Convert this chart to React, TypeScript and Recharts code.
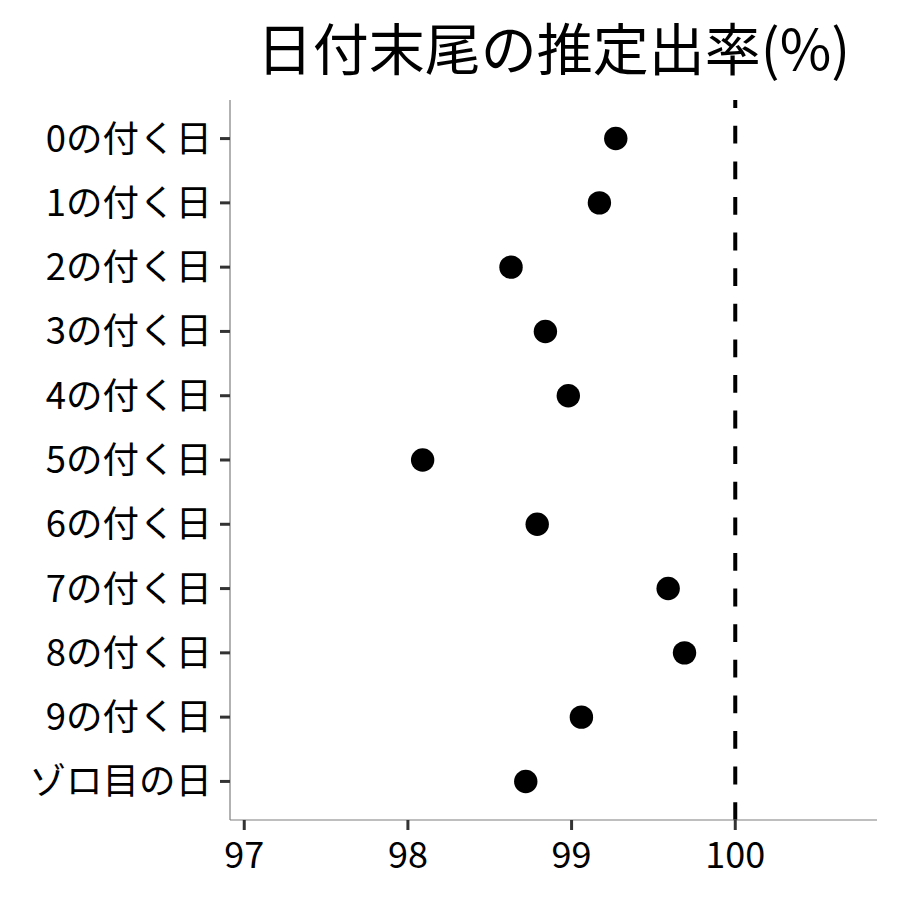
import { ScatterChart, Scatter, XAxis, YAxis, ReferenceLine } from "recharts";

const categories = [
  "0の付く日",
  "1の付く日",
  "2の付く日",
  "3の付く日",
  "4の付く日",
  "5の付く日",
  "6の付く日",
  "7の付く日",
  "8の付く日",
  "9の付く日",
  "ゾロ目の日",
];

const payoutRates = [99.27, 99.17, 98.63, 98.84, 98.98, 98.09, 98.79, 99.59, 99.69, 99.06, 98.72];

const xTicks = [97, 98, 99, 100];
const breakEven = 100;

const FONT = '"Noto Sans CJK JP", "Noto Sans", sans-serif';

const data = categories.map((name, i) => ({ name, idx: i, rate: payoutRates[i] }));

type DotProps = { cx?: number; cy?: number };

function Dot({ cx, cy }: DotProps) {
  if (cx == null || cy == null) return null;
  return <circle cx={cx} cy={cy} r={11.7} fill="#000" />;
}

export default function App() {
  return (
    <div style={{ position: "absolute", left: 0, top: 0, width: 900, height: 900, background: "#fff" }}>
      <div
        style={{
          position: "absolute",
          left: 230,
          width: 647,
          top: 6,
          textAlign: "center",
          fontFamily: FONT,
          fontSize: 56,
          lineHeight: "80px",
          color: "#000",
        }}
      >
        日付末尾の推定出率(%)
      </div>
      <ScatterChart width={900} height={900} margin={{ top: 100, right: 23, bottom: 0, left: 0 }}>
        <XAxis
          type="number"
          dataKey="rate"
          domain={[96.913, 100.866]}
          ticks={xTicks}
          allowDataOverflow
          height={80}
          tickSize={10}
          tickMargin={12}
          axisLine={{ stroke: "#7f7f7f", strokeWidth: 1.2 }}
          tickLine={{ stroke: "#333", strokeWidth: 3 }}
          tick={{ fill: "#000", fontSize: 36, fontFamily: FONT }}
        />
        <YAxis
          type="number"
          dataKey="idx"
          domain={[-0.6, 10.6]}
          ticks={categories.map((_, i) => i)}
          tickFormatter={(v: number) => categories[v] ?? ""}
          reversed
          allowDataOverflow
          width={230}
          tickSize={10}
          tickMargin={8}
          interval={0}
          axisLine={{ stroke: "#7f7f7f", strokeWidth: 1.2 }}
          tickLine={{ stroke: "#333", strokeWidth: 3 }}
          tick={{ fill: "#000", fontSize: 36.5, fontFamily: FONT }}
        />
        <ReferenceLine
          x={breakEven}
          stroke="#000"
          strokeWidth={4}
          strokeDasharray="17.8 17.8"
        />
        <Scatter data={data} shape={<Dot />} isAnimationActive={false} />
      </ScatterChart>
    </div>
  );
}
